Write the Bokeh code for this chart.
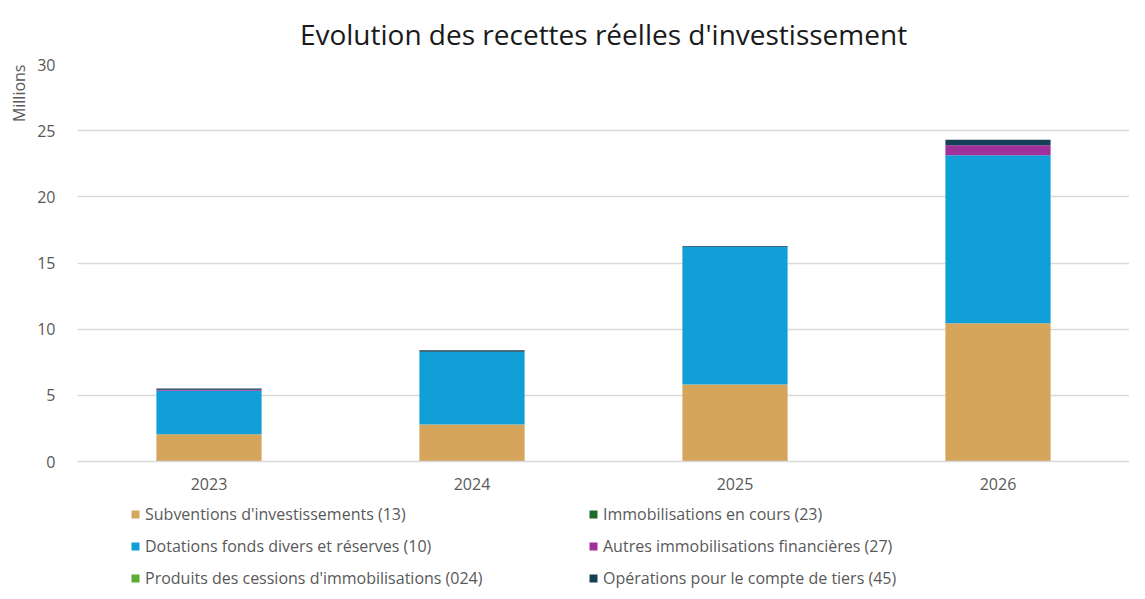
from bokeh.plotting import figure
from bokeh.models import Legend, LegendItem, Title, Range1d, FixedTicker
from bokeh.layouts import column
from bokeh.embed import file_html
from bokeh.resources import INLINE

years = ["2023", "2024", "2025", "2026"]
subventions = [2.05, 2.8, 5.82, 10.45]
dotations = [3.3, 5.5, 10.4, 12.7]
produits = [0.0, 0.0, 0.0, 0.0]
immo_cours = [0.0, 0.0, 0.0, 0.0]
autres = [0.08, 0.0, 0.0, 0.75]
operations = [0.08, 0.1, 0.06, 0.42]

series_names = ["Subventions d'investissements (13)",
                "Dotations fonds divers et réserves (10)",
                "Produits des cessions d'immobilisations (024)",
                "Immobilisations en cours (23)",
                "Autres immobilisations financières (27)",
                "Opérations pour le compte de tiers (45)"]
keys = ["sub", "dot", "prod", "immo", "autres", "ops"]
colors = ["#D4A55A", "#109FD6", "#5AAE32", "#1E6B2A", "#A0309A", "#153F55"]

data = dict(years=years, sub=subventions, dot=dotations, prod=produits,
            immo=immo_cours, autres=autres, ops=operations)

FONT = "Open Sans"
W = 1129

p = figure(x_range=years, width=W, height=492, output_backend="svg",
           toolbar_location=None, min_border_left=40, min_border_right=0,
           min_border_top=0, min_border_bottom=0)
p.y_range = Range1d(0, 30)

renderers = p.vbar_stack(keys, x="years", width=0.4, color=colors, source=data,
                         line_color=None)

p.title.text = "Evolution des recettes réelles d'investissement"
p.title.align = "center"
p.title.text_font = FONT
p.title.text_font_size = "28px"
p.title.text_font_style = "normal"
p.title.text_color = "#1a1a1a"
p.title.standoff = 24

p.add_layout(Title(text="Millions", align="right", text_font=FONT,
                   text_font_size="16px", text_font_style="normal",
                   text_color="#595959"), "left")

p.yaxis.ticker = FixedTicker(ticks=[0, 5, 10, 15, 20, 25, 30])
p.yaxis.axis_line_color = None
p.yaxis.major_tick_line_color = None
p.yaxis.minor_tick_line_color = None
p.yaxis.major_label_text_font = FONT
p.yaxis.major_label_text_font_size = "16px"
p.yaxis.major_label_text_color = "#595959"
p.yaxis.major_label_standoff = 16

p.xaxis.axis_line_color = "#d9d9d9"
p.xaxis.axis_line_width = 1.5
p.xaxis.major_tick_line_color = None
p.xaxis.minor_tick_line_color = None
p.xaxis.major_label_text_font = FONT
p.xaxis.major_label_text_font_size = "16px"
p.xaxis.major_label_text_color = "#595959"
p.xaxis.major_label_standoff = 10

p.xgrid.grid_line_color = None
p.ygrid.grid_line_color = "#d9d9d9"
p.ygrid.grid_line_width = 1.5
p.outline_line_color = None
p.x_range.range_padding = 0.0

# Legend panel (separate figure below the chart)
lg = figure(width=W, height=97, output_backend="svg", toolbar_location=None,
            min_border=0, x_range=(0, 1), y_range=(0, 1))
lg.axis.visible = False
lg.grid.visible = False
lg.outline_line_color = None
leg_renderers = [lg.vbar(x=[5], top=[5], bottom=[4], width=0.5, color=c, line_color=None)
                 for c in colors]

items = [LegendItem(label=n, renderers=[r]) for n, r in zip(series_names, leg_renderers)]
legend = Legend(items=items, ncols=2, location=(53, 0),
                label_text_font=FONT, label_text_font_size="16px",
                label_text_color="#595959", glyph_width=10, glyph_height=10,
                label_standoff=5, spacing=10, padding=0, margin=0,
                border_line_color=None, background_fill_alpha=0,
                label_height=18, label_width=433)
lg.add_layout(legend, "center")

layout = column(p, lg, spacing=0)
open("out.html", "w").write(file_html(layout, INLINE))
